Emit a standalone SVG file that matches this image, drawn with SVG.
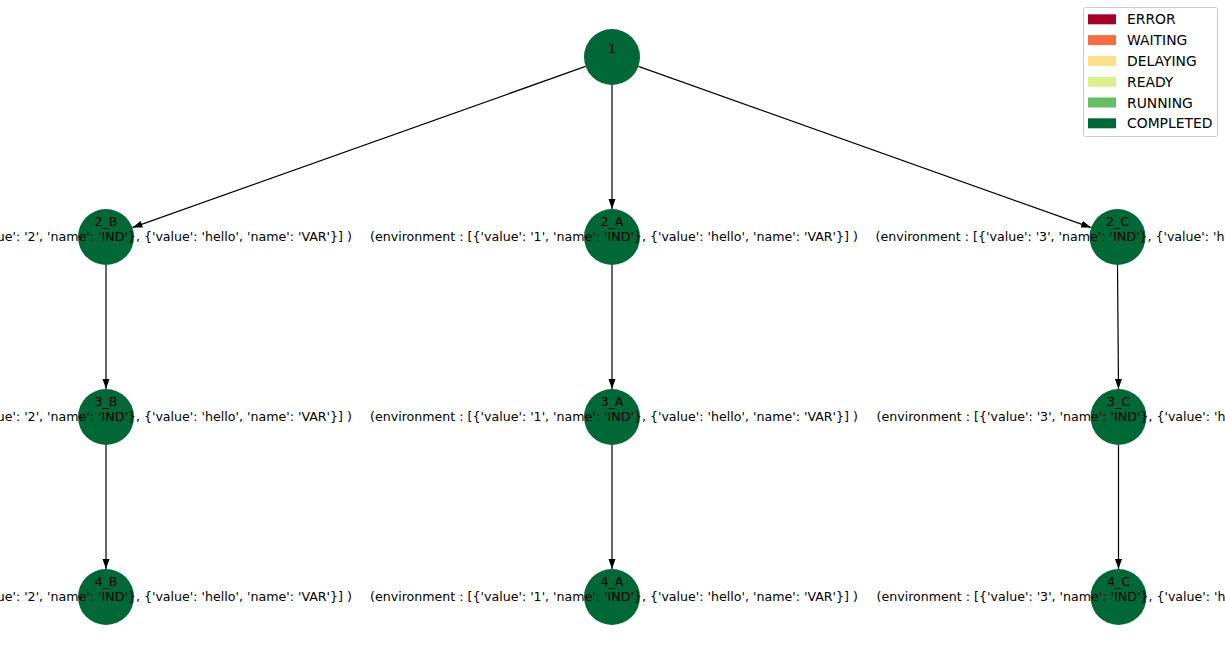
<svg xmlns="http://www.w3.org/2000/svg" width="1225" height="654" viewBox="0 0 1225 654">
<style>
.node circle { fill: #006837; }
.lbl { font-family: "DejaVu Sans", sans-serif; font-size: 12.5px; fill: #000; text-anchor: middle; }
.env { font-size: 12.62px; }
.edge { stroke: #000; stroke-width: 1.2; fill: none; }
.leg { font-family: "DejaVu Sans", sans-serif; font-size: 13.9px; fill: #000; }
</style>
<defs>
<marker id="arr" markerUnits="userSpaceOnUse" markerWidth="10" markerHeight="8" refX="10" refY="4" orient="auto">
<path d="M0,0.5 L10,4 L0,7.5 z" fill="#000"/>
</marker>
</defs>
<rect width="1225" height="654" fill="#fff"/>
<g id="edges">
<line class="edge" x1="585.6" y1="66.4" x2="132.4" y2="227.6" marker-end="url(#arr)"/>
<line class="edge" x1="612" y1="85" x2="612" y2="209" marker-end="url(#arr)"/>
<line class="edge" x1="638.4" y1="66.4" x2="1091.1" y2="227.6" marker-end="url(#arr)"/>
<line class="edge" x1="106" y1="265" x2="106" y2="389" marker-end="url(#arr)"/>
<line class="edge" x1="612" y1="265" x2="612" y2="389" marker-end="url(#arr)"/>
<line class="edge" x1="1117.5" y1="265" x2="1118.5" y2="389" marker-end="url(#arr)"/>
<line class="edge" x1="106" y1="445" x2="106" y2="569" marker-end="url(#arr)"/>
<line class="edge" x1="612" y1="445" x2="612" y2="569" marker-end="url(#arr)"/>
<line class="edge" x1="1118.5" y1="445" x2="1118.5" y2="569" marker-end="url(#arr)"/>
</g>
<g id="node-1" class="node"><circle cx="612" cy="57" r="28"/><text class="lbl" x="612" y="53">1</text></g>
<g id="node-2_B" class="node"><circle cx="106" cy="237" r="28"/><text class="lbl" x="106" y="226">2_B</text><text class="lbl env" x="108" y="241">(environment : [{'value': '2', 'name': 'IND'}, {'value': 'hello', 'name': 'VAR'}] )</text></g>
<g id="node-2_A" class="node"><circle cx="612" cy="237" r="28"/><text class="lbl" x="612" y="226">2_A</text><text class="lbl env" x="614" y="241">(environment : [{'value': '1', 'name': 'IND'}, {'value': 'hello', 'name': 'VAR'}] )</text></g>
<g id="node-2_C" class="node"><circle cx="1117.5" cy="237" r="28"/><text class="lbl" x="1117.5" y="226">2_C</text><text class="lbl env" x="1119.5" y="241">(environment : [{'value': '3', 'name': 'IND'}, {'value': 'hello', 'name': 'VAR'}] )</text></g>
<g id="node-3_B" class="node"><circle cx="106" cy="417" r="28"/><text class="lbl" x="106" y="406">3_B</text><text class="lbl env" x="108" y="421">(environment : [{'value': '2', 'name': 'IND'}, {'value': 'hello', 'name': 'VAR'}] )</text></g>
<g id="node-3_A" class="node"><circle cx="612" cy="417" r="28"/><text class="lbl" x="612" y="406">3_A</text><text class="lbl env" x="614" y="421">(environment : [{'value': '1', 'name': 'IND'}, {'value': 'hello', 'name': 'VAR'}] )</text></g>
<g id="node-3_C" class="node"><circle cx="1118.5" cy="417" r="28"/><text class="lbl" x="1118.5" y="406">3_C</text><text class="lbl env" x="1120.5" y="421">(environment : [{'value': '3', 'name': 'IND'}, {'value': 'hello', 'name': 'VAR'}] )</text></g>
<g id="node-4_B" class="node"><circle cx="106" cy="597" r="28"/><text class="lbl" x="106" y="586">4_B</text><text class="lbl env" x="108" y="601">(environment : [{'value': '2', 'name': 'IND'}, {'value': 'hello', 'name': 'VAR'}] )</text></g>
<g id="node-4_A" class="node"><circle cx="612" cy="597" r="28"/><text class="lbl" x="612" y="586">4_A</text><text class="lbl env" x="614" y="601">(environment : [{'value': '1', 'name': 'IND'}, {'value': 'hello', 'name': 'VAR'}] )</text></g>
<g id="node-4_C" class="node"><circle cx="1118.5" cy="597" r="28"/><text class="lbl" x="1118.5" y="586">4_C</text><text class="lbl env" x="1120.5" y="601">(environment : [{'value': '3', 'name': 'IND'}, {'value': 'hello', 'name': 'VAR'}] )</text></g>
<g id="legend">
<rect x="1083.5" y="7.5" width="134" height="129" rx="2" fill="#fff" fill-opacity="0.8" stroke="#ccc"/>
<rect x="1088" y="14.3" width="28" height="10" fill="#a50026"/><text class="leg" x="1127" y="24.3">ERROR</text>
<rect x="1088" y="35.1" width="28" height="10" fill="#f46d43"/><text class="leg" x="1127" y="45.1">WAITING</text>
<rect x="1088" y="55.9" width="28" height="10" fill="#fee08b"/><text class="leg" x="1127" y="65.9">DELAYING</text>
<rect x="1088" y="76.7" width="28" height="10" fill="#d9ef8b"/><text class="leg" x="1127" y="86.7">READY</text>
<rect x="1088" y="97.5" width="28" height="10" fill="#66bd63"/><text class="leg" x="1127" y="107.5">RUNNING</text>
<rect x="1088" y="118.3" width="28" height="10" fill="#006837"/><text class="leg" x="1127" y="128.3">COMPLETED</text>
</g>
</svg>
